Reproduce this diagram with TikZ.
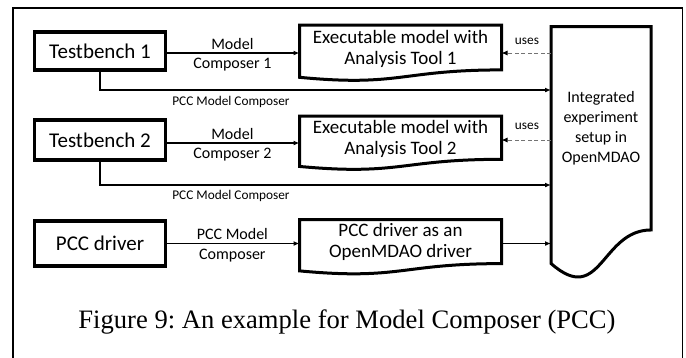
\documentclass[tikz,border=0pt]{standalone}
\usepackage{fontspec}
\setmainfont{Carlito}
\newfontfamily\captionserif{Liberation Serif}
\usetikzlibrary{arrows.meta,calc}
\frenchspacing

% flowchart "document" outline around a plain rectangular node
\newcommand\docoutline[1]{%
  \draw[docline] (#1.north west) -- (#1.north east)
    -- ($(#1.north east)!0.802!(#1.south east)$)
    .. controls ($(#1.north)!0.802!(#1.south)$) and ($(#1.north)!1.1075!(#1.south)$)
    .. ($(#1.north west)!0.934!(#1.south west)$) -- cycle;}

\begin{document}
\begin{tikzpicture}[x=1pt,y=-1pt,
  box/.style={draw, line width=3.2pt, minimum width=130.5pt, inner sep=0pt,
    outer sep=0pt, font=\fontsize{21}{25}\selectfont},
  docarea/.style={inner sep=0pt, outer sep=0pt},
  doctext/.style={align=center, inner sep=0pt, font=\fontsize{19}{21}\selectfont},
  bigtext/.style={align=center, inner sep=0pt, font=\fontsize{16}{20}\selectfont},
  docline/.style={line width=3pt, line join=miter},
  flow/.style={line width=1.4pt, -{Latex[length=6pt,width=5pt]}},
  uses/.style={draw=black!55, line width=0.9pt, dash pattern=on 4pt off 2.5pt,
    -{Latex[length=6pt,width=5pt,color=black]}},
  flowlabel/.style={align=center, inner sep=0pt, yshift=-1.5pt,
    font=\fontsize{16}{19.5}\selectfont},
  smalllabel/.style={inner sep=0pt, font=\fontsize{13.3}{16}\selectfont},
]
\useasboundingbox (0,0) rectangle (686,357);
\clip (0,0) rectangle (686,357);

% outer frame
\draw[line width=1.2pt] (13,8) rectangle (682.5,370);

% source boxes
\node[box, minimum height=38pt] (tb1) at (100,51) {Testbench 1};
\node[box, minimum height=40pt] (tb2) at (100,140) {Testbench 2};
\node[box, minimum height=45pt] (pcc) at (100,243.5) {PCC driver};

% document shapes
\node[docarea, minimum width=202pt, minimum height=56pt] (d1) at (400.5,53) {};
\node[docarea, minimum width=202pt, minimum height=54pt] (d2) at (400.5,143) {};
\node[docarea, minimum width=202pt, minimum height=55pt] (d3) at (400.5,247) {};
\node[docarea, minimum width=100pt, minimum height=253.7pt] (big) at (601,153.35) {};
\docoutline{d1}
\docoutline{d2}
\docoutline{d3}
\docoutline{big}

\node[doctext] (d1text) at ($(d1.north)!0.42!(d1.south)$) {Executable model with\\Analysis Tool 1};
\node[doctext] (d2text) at ($(d2.north)!0.42!(d2.south)$) {Executable model with\\Analysis Tool 2};
\node[doctext] (d3text) at ($(d3.north)!0.41!(d3.south)$) {PCC driver as an\\OpenMDAO driver};
\node[bigtext] (bigtext) at ($(big.north)!0.40!(big.south)$) {Integrated\\experiment\\setup in\\OpenMDAO};

% model composers
\draw[flow] (d1 -| tb1.east) -- (d1.west)
  node[midway, flowlabel] {Model\\Composer 1};
\draw[flow] (d2 -| tb2.east) -- (d2.west)
  node[midway, flowlabel] {Model\\Composer 2};
\draw[flow] (pcc.east) -- (pcc -| d3.west)
  node[midway, flowlabel] {PCC Model\\Composer};
\draw[flow] (pcc -| d3.east) -- (pcc -| big.west);

% PCC model composer paths into the integrated setup
\coordinate (j1) at (551,90);
\coordinate (j2) at (551,185);
\draw[flow] (tb1.south) |- (j1);
\draw[flow] (tb2.south) |- (j2);
\node[smalllabel] (pmc1) at (231,101.5) {PCC Model Composer};
\node[smalllabel] (pmc2) at (231,196) {PCC Model Composer};

% uses relations
\draw[uses] (d1 -| big.west) -- (d1.east);
\draw[uses] ([yshift=3pt]d2.east -| big.west) -- ([yshift=3pt]d2.east);
\node[smalllabel] (uses1) at (527,41) {uses};
\node[smalllabel] (uses2) at (527,126) {uses};

% caption
\node[inner sep=0pt, font=\captionserif\fontsize{26.6}{30}\selectfont] (caption)
  at (347,322) {Figure 9: An example for Model Composer (PCC)};
\end{tikzpicture}
\end{document}
